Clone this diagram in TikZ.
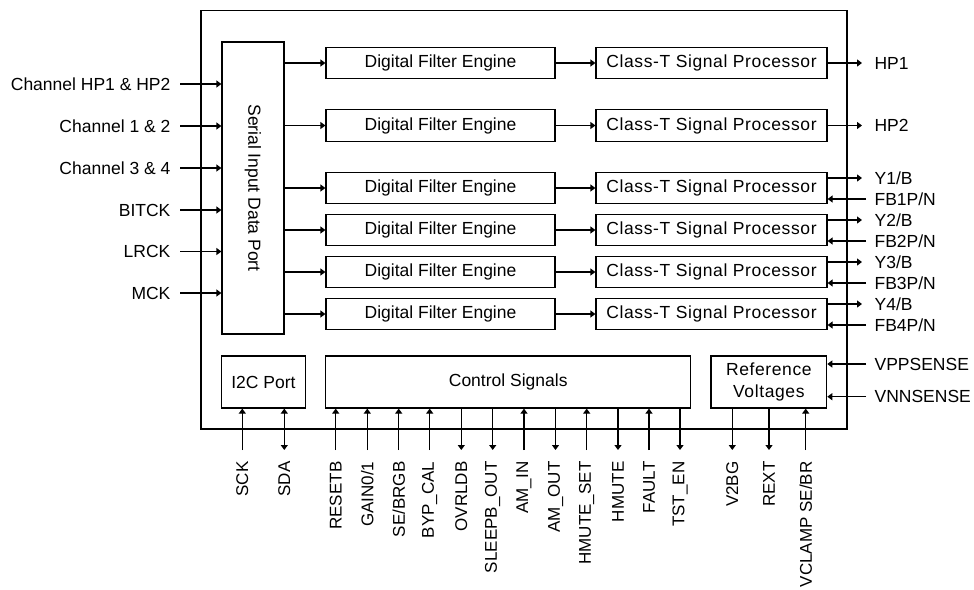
\documentclass[tikz,border=0pt]{standalone}
\usepackage{fontspec}
\setmainfont{Liberation Sans}
\usepackage{graphicx}
\usetikzlibrary{positioning,arrows.meta}

\tikzset{
  blk/.style={draw, inner sep=0pt},
  wide/.style={font=\fontsize{17.5}{21.5}\selectfont\addfontfeatures{LetterSpace=3.5}},
  filt/.style={blk, minimum width=229pt, minimum height=31.5pt},
  proc/.style={blk, wide, minimum width=231pt, minimum height=31.5pt},
  lowblk/.style={blk, minimum height=52pt},
  lbl/.style={inner sep=0pt},
  vlbl/.style={inner sep=0pt, rotate=90, anchor=east, font=\fontsize{17}{20}\selectfont},
}

\begin{document}
\begin{tikzpicture}[x=1pt, y=1pt, line width=1.2pt,
  >={Triangle[length=5pt,width=7pt]},
  font=\fontsize{17.5}{21.5}\selectfont]
    \useasboundingbox (0,0) rectangle (974,-589);

    \node[blk, minimum width=646pt, minimum height=418.3pt] (chip) at (524,-219.85) {};

    \node[blk, minimum width=62pt, minimum height=292pt] (sdp) at (253,-188) {\rotatebox{-90}{Serial Input Data Port}};

    % inputs
    \coordinate (chhp) at (180,-84);
    \draw[->] (chhp) -- (chhp -| sdp.west);
    \node[lbl, left=9pt of chhp] {Channel HP1 \& HP2};

    \coordinate (ch12) at (180,-126);
    \draw[->] (ch12) -- (ch12 -| sdp.west);
    \node[lbl, left=9pt of ch12] {Channel 1 \& 2};

    \coordinate (ch34) at (180,-168);
    \draw[->] (ch34) -- (ch34 -| sdp.west);
    \node[lbl, left=9pt of ch34] {Channel 3 \& 4};

    \coordinate (bitck) at (180,-210);
    \draw[->] (bitck) -- (bitck -| sdp.west);
    \node[lbl, left=9pt of bitck] {BITCK};

    \coordinate (lrck) at (180,-251.5);
    \draw[->] (lrck) -- (lrck -| sdp.west);
    \node[lbl, left=9pt of lrck] {LRCK};

    \coordinate (mck) at (180,-293);
    \draw[->] (mck) -- (mck -| sdp.west);
    \node[lbl, left=9pt of mck] {MCK};

    % filters and processors
    \node[filt] (dfe1) at (440.5,-63) {Digital Filter Engine};
    \node[proc] (ctp1) at (711.5,-63) {Class-T Signal Processor};
    \draw[->] (dfe1 -| sdp.east) -- (dfe1.west);
    \draw[->] (dfe1.east) -- (ctp1.west);

    \node[filt] (dfe2) at (440.5,-125.5) {Digital Filter Engine};
    \node[proc] (ctp2) at (711.5,-125.5) {Class-T Signal Processor};
    \draw[->] (dfe2 -| sdp.east) -- (dfe2.west);
    \draw[->] (dfe2.east) -- (ctp2.west);

    \node[filt] (dfe3) at (440.5,-188) {Digital Filter Engine};
    \node[proc] (ctp3) at (711.5,-188) {Class-T Signal Processor};
    \draw[->] (dfe3 -| sdp.east) -- (dfe3.west);
    \draw[->] (dfe3.east) -- (ctp3.west);

    \node[filt] (dfe4) at (440.5,-230) {Digital Filter Engine};
    \node[proc] (ctp4) at (711.5,-230) {Class-T Signal Processor};
    \draw[->] (dfe4 -| sdp.east) -- (dfe4.west);
    \draw[->] (dfe4.east) -- (ctp4.west);

    \node[filt] (dfe5) at (440.5,-272) {Digital Filter Engine};
    \node[proc] (ctp5) at (711.5,-272) {Class-T Signal Processor};
    \draw[->] (dfe5 -| sdp.east) -- (dfe5.west);
    \draw[->] (dfe5.east) -- (ctp5.west);

    \node[filt] (dfe6) at (440.5,-314) {Digital Filter Engine};
    \node[proc] (ctp6) at (711.5,-314) {Class-T Signal Processor};
    \draw[->] (dfe6 -| sdp.east) -- (dfe6.west);
    \draw[->] (dfe6.east) -- (ctp6.west);

    % outputs
    \coordinate (hp1) at (862,-63);
    \draw[->] (ctp1.east) -- (hp1);
    \node[lbl, right=12pt of hp1] {HP1};

    \coordinate (hp2) at (862,-125.5);
    \draw[->] (ctp2.east) -- (hp2);
    \node[lbl, right=12pt of hp2] {HP2};

    \coordinate (y1) at (862,-178);
    \draw[->] (y1 -| ctp3.east) -- (y1);
    \node[lbl, right=12pt of y1] {Y1/B};
    \coordinate (fb1) at (866,-199);
    \draw[->] (fb1) -- (fb1 -| ctp3.east);
    \node[lbl, right=8pt of fb1] {FB1P/N};

    \coordinate (y2) at (862,-220);
    \draw[->] (y2 -| ctp4.east) -- (y2);
    \node[lbl, right=12pt of y2] {Y2/B};
    \coordinate (fb2) at (866,-241);
    \draw[->] (fb2) -- (fb2 -| ctp4.east);
    \node[lbl, right=8pt of fb2] {FB2P/N};

    \coordinate (y3) at (862,-262);
    \draw[->] (y3 -| ctp5.east) -- (y3);
    \node[lbl, right=12pt of y3] {Y3/B};
    \coordinate (fb3) at (866,-283);
    \draw[->] (fb3) -- (fb3 -| ctp5.east);
    \node[lbl, right=8pt of fb3] {FB3P/N};

    \coordinate (y4) at (862,-304);
    \draw[->] (y4 -| ctp6.east) -- (y4);
    \node[lbl, right=12pt of y4] {Y4/B};
    \coordinate (fb4) at (866,-325);
    \draw[->] (fb4) -- (fb4 -| ctp6.east);
    \node[lbl, right=8pt of fb4] {FB4P/N};

    % bottom blocks
    \node[lowblk, minimum width=84pt] (i2c) at (263.4,-382) {I2C Port};
    \node[lowblk, minimum width=365pt] (ctrl) at (508.2,-382) {Control Signals};
    \node[lowblk, wide, minimum width=115.7pt, align=center] (refv) at (768.85,-382) {Reference\\Voltages};

    \coordinate (vpp) at (866,-364);
    \draw[->] (vpp) -- (vpp -| refv.east);
    \node[lbl, right=8pt of vpp] {VPPSENSE};

    \coordinate (vnn) at (866,-396.7);
    \draw[->] (vnn) -- (vnn -| refv.east);
    \node[lbl, right=8pt of vnn] {VNNSENSE};

    % pins
    \coordinate (sck) at (242.3,-450);
    \draw[->] (sck) -- (sck |- i2c.south);
    \node[vlbl] at ([yshift=-11pt]sck) {SCK};

    \coordinate (sda) at (284.3,-450);
    \draw[<->] (sda) -- (sda |- i2c.south);
    \node[vlbl] at ([yshift=-11pt]sda) {SDA};

    \coordinate (resetb) at (335.7,-450);
    \draw[->] (resetb) -- (resetb |- ctrl.south);
    \node[vlbl] at ([yshift=-11pt]resetb) {RESETB};

    \coordinate (gain) at (367.3,-450);
    \draw[->] (gain) -- (gain |- ctrl.south);
    \node[vlbl] at ([yshift=-11pt]gain) {GAIN0/1};

    \coordinate (sebr) at (398.7,-450);
    \draw[->] (sebr) -- (sebr |- ctrl.south);
    \node[vlbl] at ([yshift=-11pt]sebr) {SE/BRGB};

    \coordinate (bypcal) at (429.7,-450);
    \draw[->] (bypcal) -- (bypcal |- ctrl.south);
    \node[vlbl] at ([yshift=-11pt]bypcal) {BYP\_CAL};

    \coordinate (ovrldb) at (461.3,-450);
    \draw[->] (ovrldb |- ctrl.south) -- (ovrldb);
    \node[vlbl] at ([yshift=-11pt]ovrldb) {OVRLDB};

    \coordinate (sleepb) at (492.7,-450);
    \draw[->] (sleepb |- ctrl.south) -- (sleepb);
    \node[vlbl] at ([yshift=-11pt]sleepb) {SLEEPB\_OUT};

    \coordinate (amin) at (524,-450);
    \draw[->] (amin) -- (amin |- ctrl.south);
    \node[vlbl] at ([yshift=-11pt]amin) {AM\_IN};

    \coordinate (amout) at (555.5,-450);
    \draw[->] (amout |- ctrl.south) -- (amout);
    \node[vlbl] at ([yshift=-11pt]amout) {AM\_OUT};

    \coordinate (hmset) at (586.7,-450);
    \draw[->] (hmset) -- (hmset |- ctrl.south);
    \node[vlbl] at ([yshift=-11pt]hmset) {HMUTE\_SET};

    \coordinate (hmute) at (618,-450);
    \draw[->] (hmute |- ctrl.south) -- (hmute);
    \node[vlbl] at ([yshift=-11pt]hmute) {HMUTE};

    \coordinate (fault) at (649,-450);
    \draw[->] (fault) -- (fault |- ctrl.south);
    \node[vlbl] at ([yshift=-11pt]fault) {FAULT};

    \coordinate (tsten) at (680,-450);
    \draw[->] (tsten |- ctrl.south) -- (tsten);
    \node[vlbl] at ([yshift=-11pt]tsten) {TST\_EN};

    \coordinate (v2bg) at (732.3,-450);
    \draw[->] (v2bg |- refv.south) -- (v2bg);
    \node[vlbl] at ([yshift=-11pt]v2bg) {V2BG};

    \coordinate (rext) at (769,-450);
    \draw[->] (rext |- refv.south) -- (rext);
    \node[vlbl] at ([yshift=-11pt]rext) {REXT};

    \coordinate (vclamp) at (805.7,-450);
    \draw[->] (vclamp) -- (vclamp |- refv.south);
    \node[vlbl] at ([yshift=-11pt]vclamp) {VCLAMP SE/BR};

\end{tikzpicture}
\end{document}
